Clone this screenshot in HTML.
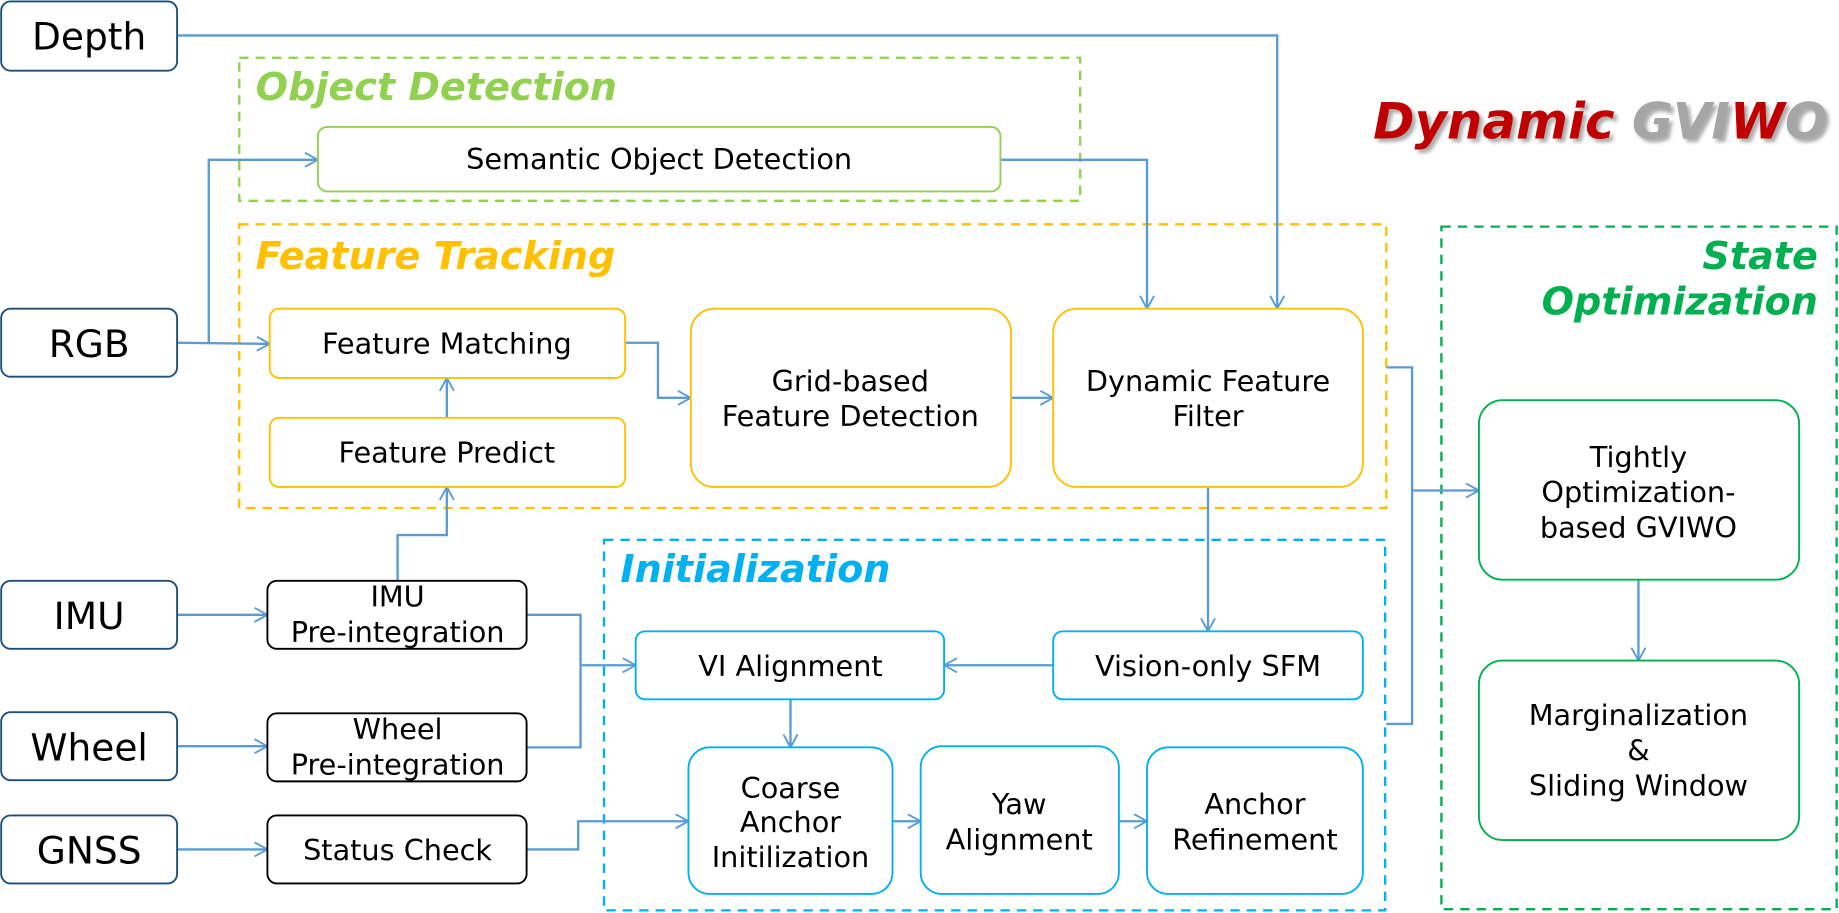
<!DOCTYPE html>
<html><head><meta charset="utf-8"><style>
html,body{margin:0;padding:0;background:#fff;}
svg{display:block;}
text{font-family:"DejaVu Sans","Liberation Sans",sans-serif;}
</style></head><body>
<svg width="1839" height="913" viewBox="0 0 1568 778" xmlns="http://www.w3.org/2000/svg">
<defs>
<marker id="a" markerWidth="14" markerHeight="14" refX="12" refY="7" orient="auto" markerUnits="userSpaceOnUse">
<path d="M1,1 L12,7 L1,13" fill="none" stroke="#5b9bd5" stroke-width="1.6"/>
</marker>
<filter id="sh"><feDropShadow dx="3" dy="3" stdDeviation="1.5" flood-color="#888" flood-opacity="0.7"/></filter>
</defs>
<rect width="1568" height="778" fill="#fff"/>

<rect x="204" y="49" width="717" height="122" fill="none" stroke="#92d050" stroke-width="2" stroke-dasharray="8,6"/>
<rect x="204" y="191" width="978" height="242" fill="none" stroke="#ffc000" stroke-width="2" stroke-dasharray="8,6"/>
<rect x="515" y="460" width="666" height="316" fill="none" stroke="#00b0f0" stroke-width="2" stroke-dasharray="8,6"/>
<rect x="1229" y="193" width="337" height="582" fill="none" stroke="#00b050" stroke-width="2" stroke-dasharray="8,6"/>

<g font-weight="bold" font-style="italic" font-size="32.5">
<text x="218" y="85" fill="#92d050">Object Detection</text>
<text x="218" y="229" fill="#ffc000">Feature Tracking</text>
<text x="529" y="496" fill="#00b0f0">Initialization</text>
<text x="1550" y="229" fill="#00b050" text-anchor="end">State</text>
<text x="1550" y="268" fill="#00b050" text-anchor="end">Optimization</text>
</g>
<text x="1558" y="118" text-anchor="end" font-size="42.5" font-weight="bold" font-style="italic" filter="url(#sh)"><tspan fill="#c00000">Dynamic </tspan><tspan fill="#a6a6a6">GVI</tspan><tspan fill="#c00000">W</tspan><tspan fill="#a6a6a6">O</tspan></text>

<g fill="none" stroke="#5b9bd5" stroke-width="2">
<path d="M151,30 H1089 V263" marker-end="url(#a)"/>
<path d="M151,292 L230,293" marker-end="url(#a)"/>
<path d="M178,292 V136 H271" marker-end="url(#a)"/>
<path d="M853,136 H978 V263" marker-end="url(#a)"/>
<path d="M533,292 H561 V339 H589" marker-end="url(#a)"/>
<path d="M381,356 V322" marker-end="url(#a)"/>
<path d="M862,339 H898" marker-end="url(#a)"/>
<path d="M339,495 V456 H381 V415" marker-end="url(#a)"/>
<path d="M151,524 H228" marker-end="url(#a)"/>
<path d="M151,636 H228" marker-end="url(#a)"/>
<path d="M151,724 H228" marker-end="url(#a)"/>
<path d="M449,524 H495 V637 H449"/>
<path d="M495,567 H542" marker-end="url(#a)"/>
<path d="M449,724 H493 V700 H587" marker-end="url(#a)"/>
<path d="M1030,415 V538" marker-end="url(#a)"/>
<path d="M898,567 H805" marker-end="url(#a)"/>
<path d="M674,596 V637" marker-end="url(#a)"/>
<path d="M761,700 H785" marker-end="url(#a)"/>
<path d="M954,700 H978" marker-end="url(#a)"/>
<path d="M1182,313 H1204 V617 H1182"/>
<path d="M1204,418 H1261" marker-end="url(#a)"/>
<path d="M1397,494 V563" marker-end="url(#a)"/>
</g>

<g fill="#fff" stroke="#1f4e79" stroke-width="1.6">
<rect x="1" y="1" width="150" height="59" rx="8"/>
<rect x="1" y="263" width="150" height="58" rx="8"/>
<rect x="1" y="495" width="150" height="58" rx="8"/>
<rect x="1" y="607" width="150" height="58" rx="8"/>
<rect x="1" y="695" width="150" height="58" rx="8"/>
</g>
<g font-size="32" text-anchor="middle" fill="#000">
<text x="76" y="42">Depth</text>
<text x="76" y="304">RGB</text>
<text x="76" y="536">IMU</text>
<text x="76" y="648">Wheel</text>
<text x="76" y="736">GNSS</text>
</g>

<g fill="#fff" stroke="#000" stroke-width="1.6">
<rect x="228" y="495" width="221" height="58" rx="8"/>
<rect x="228" y="608" width="221" height="58" rx="8"/>
<rect x="228" y="695" width="221" height="58" rx="8"/>
</g>
<g fill="#fff" stroke="#92d050" stroke-width="1.6">
<rect x="271" y="108" width="582" height="55" rx="8"/>
</g>
<g fill="#fff" stroke="#ffc000" stroke-width="1.6">
<rect x="230" y="263" width="303" height="59" rx="8"/>
<rect x="230" y="356" width="303" height="59" rx="8"/>
<rect x="589" y="263" width="273" height="152" rx="20"/>
<rect x="898" y="263" width="264" height="152" rx="20"/>
</g>
<g fill="#fff" stroke="#00b0f0" stroke-width="1.6">
<rect x="542" y="538" width="263" height="58" rx="8"/>
<rect x="898" y="538" width="264" height="58" rx="8"/>
<rect x="587" y="637" width="174" height="125" rx="18"/>
<rect x="785" y="636" width="169" height="126" rx="18"/>
<rect x="978" y="637" width="184" height="125" rx="18"/>
</g>
<g fill="#fff" stroke="#00b050" stroke-width="1.6">
<rect x="1261" y="341" width="273" height="153" rx="20"/>
<rect x="1261" y="563" width="273" height="153" rx="20"/>
</g>

<g font-size="24.5" text-anchor="middle" fill="#000">
<text x="339" y="517">IMU</text>
<text x="339" y="547">Pre-integration</text>
<text x="339" y="630">Wheel</text>
<text x="339" y="660">Pre-integration</text>
<text x="339" y="733">Status Check</text>
<text x="562" y="144">Semantic Object Detection</text>
<text x="381" y="301">Feature Matching</text>
<text x="381" y="394">Feature Predict</text>
<text x="725" y="333">Grid-based</text>
<text x="725" y="363">Feature Detection</text>
<text x="1030" y="333">Dynamic Feature</text>
<text x="1030" y="363">Filter</text>
<text x="674" y="576">VI Alignment</text>
<text x="1030" y="576">Vision-only SFM</text>
<text x="674" y="680">Coarse</text>
<text x="674" y="709">Anchor</text>
<text x="674" y="739">Initilization</text>
<text x="869" y="694">Yaw</text>
<text x="869" y="724">Alignment</text>
<text x="1070" y="694">Anchor</text>
<text x="1070" y="724">Refinement</text>
<text x="1397" y="398">Tightly</text>
<text x="1397" y="428">Optimization-</text>
<text x="1397" y="458">based GVIWO</text>
<text x="1397" y="618">Marginalization</text>
<text x="1397" y="648">&amp;</text>
<text x="1397" y="678">Sliding Window</text>
</g>
</svg>
</body></html>
